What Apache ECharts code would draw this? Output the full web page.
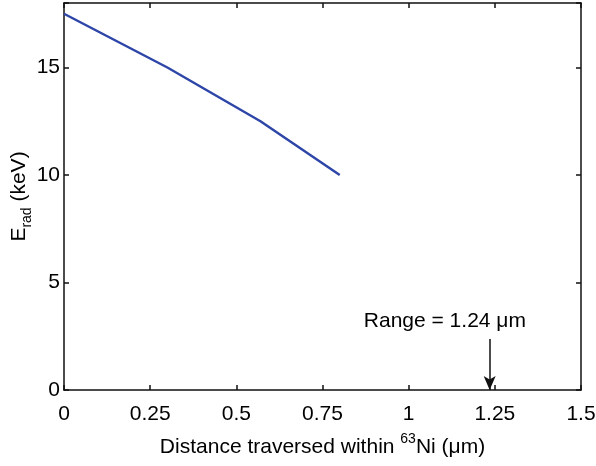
<!DOCTYPE html>
<html>
<head>
<meta charset="utf-8">
<script src="https://cdn.jsdelivr.net/npm/echarts@6/dist/echarts.min.js"></script>
<style>html,body{margin:0;padding:0;background:#fff}#c{width:596px;height:466px}</style>
</head>
<body>
<div id="c"></div>
<script>
// Data
var distance = [0, 0.3, 0.57, 0.8];          // µm
var energy = [17.5, 15, 12.5, 10];           // keV
var rangeValue = 1.235;                       // arrow position (µm)
var arrowTop = 2.37;                          // keV
var rangeLabel = 'Range = 1.24 \u03bcm';
var rangeLabelPos = [1.105, 3.22];
var xTicks = [0, 0.25, 0.5, 0.75, 1, 1.25, 1.5];
var yTicks = [0, 5, 10, 15];

var FONT = '"Liberation Sans", Arial, sans-serif';
var FS = 21;
var ink = '#000';

var chart = echarts.init(document.getElementById('c'), null, {renderer: 'canvas'});

function fmtX(v) {
  for (var i = 0; i < xTicks.length; i++) if (Math.abs(xTicks[i] - v) < 1e-9) return String(xTicks[i]);
  return '';
}
function fmtY(v) {
  for (var i = 0; i < yTicks.length; i++) if (Math.abs(yTicks[i] - v) < 1e-9) return String(yTicks[i]);
  return '';
}

var axisLine = {show: true, onZero: false, lineStyle: {color: '#111', width: 1.5}};
var tick = {show: true, inside: true, length: 5, lineStyle: {color: '#111', width: 1.5}};

chart.setOption({
  animation: false,
  grid: {left: 64, top: 3, width: 517, height: 387, containLabel: false, outerBoundsMode: 'none'},
  xAxis: [{
    type: 'value', min: 0, max: 1.5, interval: 0.25, position: 'bottom',
    axisLine: axisLine, axisTick: tick, splitLine: {show: false},
    axisLabel: {color: ink, fontFamily: FONT, fontSize: FS, margin: 14, formatter: fmtX},
    name: '{m|Distance traversed within }{s|63}{m|Ni (\u03bcm)}',
    nameLocation: 'middle', nameGap: 42, nameMoveOverlap: false,
    nameTextStyle: {
      color: ink, fontFamily: FONT,
      rich: {
        m: {fontFamily: FONT, fontSize: FS, color: ink, lineHeight: 30, verticalAlign: 'middle'},
        s: {fontFamily: FONT, fontSize: 14, color: ink, lineHeight: 20, verticalAlign: 'top'}
      }
    }
  }, {
    type: 'value', min: 0, max: 1.5, interval: 0.25, position: 'top',
    axisLine: axisLine, axisTick: tick, splitLine: {show: false}, axisLabel: {show: false}
  }],
  yAxis: [{
    type: 'value', min: 0, max: 18, interval: 5, position: 'left',
    axisLine: axisLine, axisTick: tick, splitLine: {show: false},
    axisLabel: {color: ink, fontFamily: FONT, fontSize: FS, margin: 4, formatter: fmtY},
    name: '{m|E}{s|rad}{m| (keV)}',
    nameLocation: 'middle', nameGap: 30, nameRotate: 90, nameMoveOverlap: false,
    nameTextStyle: {
      color: ink, fontFamily: FONT,
      rich: {
        m: {fontFamily: FONT, fontSize: FS, color: ink, lineHeight: 30, verticalAlign: 'middle'},
        s: {fontFamily: FONT, fontSize: 14, color: ink, lineHeight: 17, verticalAlign: 'bottom'}
      }
    }
  }, {
    type: 'value', min: 0, max: 18, interval: 5, position: 'right',
    axisLine: axisLine, axisTick: tick, splitLine: {show: false}, axisLabel: {show: false}
  }],
  series: [{
    type: 'line',
    data: distance.map(function (d, i) { return [d, energy[i]]; }),
    showSymbol: false, symbol: 'none',
    lineStyle: {color: '#2E46A8', width: 2.5},
    markLine: {
      silent: true,
      symbol: ['none', 'arrow'],
      symbolSize: [9, 14],
      lineStyle: {color: '#111', width: 1.5, type: 'solid', opacity: 1},
      label: {show: false},
      data: [[{coord: [rangeValue, arrowTop]}, {coord: [rangeValue, 0]}]]
    },
    markPoint: {
      silent: true,
      symbol: 'circle', symbolSize: 0,
      label: {show: true, position: 'inside', formatter: rangeLabel,
        color: ink, fontFamily: FONT, fontSize: FS, opacity: 1},
      itemStyle: {opacity: 1},
      data: [{coord: rangeLabelPos}]
    }
  }]
});
</script>
</body>
</html>
